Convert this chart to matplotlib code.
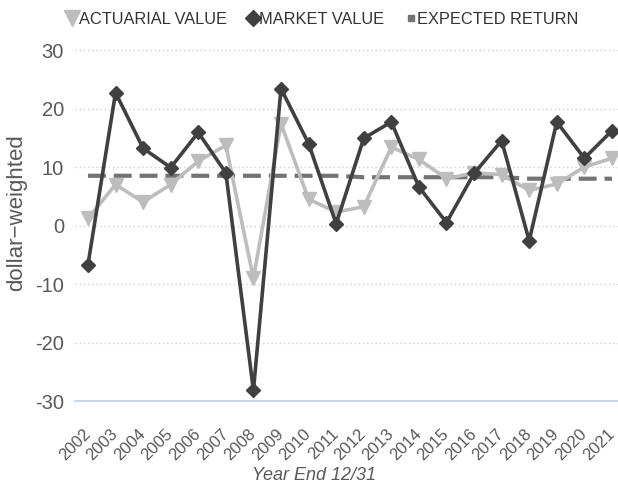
import matplotlib
matplotlib.use("Agg")
import matplotlib.pyplot as plt
from matplotlib.lines import Line2D

plt.rcParams['font.family'] = ['Liberation Sans', 'DejaVu Sans']
plt.rcParams['axes.unicode_minus'] = False

years = list(range(2002, 2022))
actuarial = [1.2, 7.0, 4.0, 7.0, 11.0, 13.7, -9.0, 17.4, 4.5, 2.3, 3.2, 13.4, 11.3, 8.0, 9.0, 8.7, 6.0, 7.1, 10.0, 11.5]
market = [-6.7, 22.7, 13.2, 9.9, 15.9, 9.0, -28.2, 23.4, 14.0, 0.3, 14.9, 17.7, 6.6, 0.5, 8.9, 14.5, -2.6, 17.7, 11.5, 16.2]
expected = [8.5, 8.5, 8.5, 8.5, 8.5, 8.5, 8.5, 8.5, 8.5, 8.5, 8.25, 8.25, 8.25, 8.25, 8.25, 8.25, 8.0, 8.0, 8.0, 8.0]
yticks = [-30, -20, -10, 0, 10, 20, 30]

c_act = '#bdbdbd'
c_mkt = '#404040'
c_exp = '#737373'
c_txt = '#595959'

W, H = 618, 486
fig = plt.figure(figsize=(W / 100, H / 100), dpi=100)
ax = fig.add_axes([75 / W, 1 - 401 / H, (W - 75) / W, 351 / H])

ax.plot(years, expected, color=c_exp, lw=3, ls=(0, (4.3, 1.9)), zorder=2, clip_on=False)
ax.plot(years, actuarial, color=c_act, lw=2.6, marker='v', ms=10.5, zorder=3, clip_on=False)
ax.plot(years, market, color=c_mkt, lw=2.6, marker='D', ms=7, zorder=4, clip_on=False)

ax.set_ylim(-30, 30)
ax.set_xlim(2001.53, 2021.22)
ax.set_yticks(yticks)
ax.set_xticks(years)
ax.set_xticklabels([str(y) for y in years], rotation=45, ha='right', va='center',
                   rotation_mode='anchor', fontsize=12, color=c_txt)
ax.tick_params(axis='y', labelsize=14.5, colors=c_txt, length=0, pad=8)
ax.tick_params(axis='x', length=0, pad=22)
for yv in yticks[1:]:
    ax.axhline(yv, color='#d0d0d0', lw=1, ls=(0, (1, 2)), zorder=1, clip_on=False)
ax.axhline(-30, color='#c5d3ea', lw=1.3, zorder=1, clip_on=False)
for s in ax.spines.values():
    s.set_visible(False)

fig.text(17 / W, 1 - 213 / H, 'dollar\u2212weighted', fontsize=16, color=c_txt,
         rotation=90, ha='center', va='center')
fig.text(314.5 / W, 1 - 475 / H, 'Year End 12/31', fontsize=13, color=c_txt,
         style='italic', ha='center', va='center')

handles = [
    Line2D([], [], ls='none', marker='v', ms=11, color=c_act),
    Line2D([], [], ls='none', marker='D', ms=8, color=c_mkt),
    Line2D([], [], ls='none', marker='s', ms=4, color=c_exp),
]
fig.legend(handles, ['ACTUARIAL VALUE', 'MARKET VALUE', 'EXPECTED RETURN'],
           loc='center', bbox_to_anchor=(322 / W, 1 - 19 / H), ncol=3, frameon=False,
           fontsize=11.8, handlelength=0.8, handletextpad=0.0, columnspacing=1.2,
           labelcolor='#333333', borderpad=0)

fig.savefig('out.png', dpi=100)
